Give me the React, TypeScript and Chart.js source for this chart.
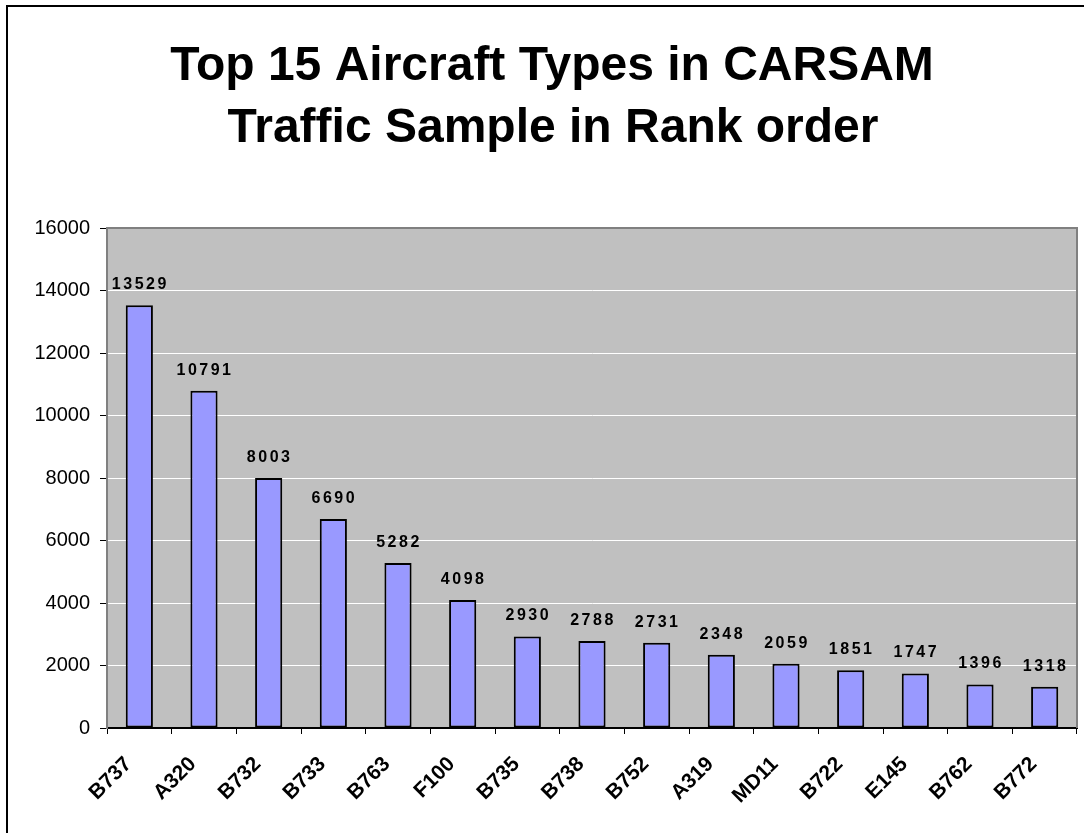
import React, { useEffect, useRef } from "react";
import { Chart, registerables } from "chart.js";

Chart.register(...registerables);

const titleLines = ["Top 15 Aircraft Types in CARSAM", "Traffic Sample in Rank order"];
const categories = ["B737", "A320", "B732", "B733", "B763", "F100", "B735", "B738", "B752", "A319", "MD11", "B722", "E145", "B762", "B772"];
const counts = [13529, 10791, 8003, 6690, 5282, 4098, 2930, 2788, 2731, 2348, 2059, 1851, 1747, 1396, 1318];
const yMin = 0;
const yMax = 16000;
const yStep = 2000;

const FONT = "Arial, 'Liberation Sans', sans-serif";

const decorPlugin = {
  id: "decor",
  beforeDraw(chart: any) {
    const { ctx, chartArea } = chart;
    ctx.save();
    ctx.fillStyle = "#ffffff";
    ctx.fillRect(0, 0, chart.width, chart.height);
    ctx.fillStyle = "#C0C0C0";
    ctx.fillRect(chartArea.left, chartArea.top, chartArea.right - chartArea.left, chartArea.bottom - chartArea.top);
    ctx.restore();
  },
  afterDraw(chart: any) {
    const { ctx, chartArea } = chart;
    ctx.save();
    // outer border
    ctx.strokeStyle = "#000000";
    ctx.lineWidth = 2;
    ctx.beginPath();
    ctx.moveTo(7, chart.height + 5);
    ctx.lineTo(7, 6);
    ctx.lineTo(chart.width + 5, 6);
    ctx.stroke();
    // plot border top & right
    ctx.strokeStyle = "#808080";
    ctx.lineWidth = 2;
    ctx.beginPath();
    ctx.moveTo(chartArea.left, chartArea.top);
    ctx.lineTo(chartArea.right, chartArea.top);
    ctx.lineTo(chartArea.right, chartArea.bottom);
    ctx.stroke();
    // title
    ctx.fillStyle = "#000000";
    ctx.font = `bold 48px ${FONT}`;
    ctx.textAlign = "center";
    ctx.textBaseline = "alphabetic";
    ctx.fillText(titleLines[0], 552, 80);
    ctx.fillText(titleLines[1], 553, 142);
    // data labels
    const meta = chart.getDatasetMeta(0);
    ctx.font = `bold 16px ${FONT}`;
    (ctx as any).letterSpacing = "2.5px";
    ctx.textAlign = "center";
    ctx.textBaseline = "alphabetic";
    meta.data.forEach((bar: any, i: number) => {
      ctx.fillText(String(counts[i]), bar.x + 1, bar.y - 16);
    });
    ctx.restore();
  },
};

export default function App() {
  const ref = useRef<HTMLCanvasElement | null>(null);
  useEffect(() => {
    if (!ref.current) return;
    const chart = new Chart(ref.current, {
      type: "bar",
      data: {
        labels: categories,
        datasets: [
          {
            data: counts,
            backgroundColor: "#9999FF",
            borderColor: "#000000",
            borderWidth: 2,
            borderSkipped: false,
            categoryPercentage: 1,
            barPercentage: 0.42,
          },
        ],
      },
      options: {
        animation: false,
        responsive: false,
        devicePixelRatio: 1,
        layout: { padding: { left: 7, top: 228, right: 7, bottom: 0 } },
        plugins: {
          legend: { display: false },
          title: { display: false },
          tooltip: { enabled: false },
        },
        scales: {
          x: {
            offset: true,
            grid: {
              offset: true,
              drawOnChartArea: false,
              drawTicks: true,
              tickLength: 6,
              tickColor: "#000000",
              tickWidth: 1,
            },
            border: { color: "#000000", width: 2 },
            ticks: {
              color: "#000000",
              font: { family: FONT, size: 21, weight: "bold" },
              minRotation: 45,
              maxRotation: 45,
              padding: 18,
              labelOffset: -11,
              autoSkip: false,
            },
            afterFit(scale: any) {
              scale.height = 105;
            },
          },
          y: {
            min: yMin,
            max: yMax,
            grid: {
              color: "#ffffff",
              lineWidth: 1,
              drawTicks: true,
              tickLength: 7,
              tickColor: "#000000",
              tickWidth: 1,
            },
            border: { color: "#808080", width: 2 },
            ticks: {
              stepSize: yStep,
              color: "#000000",
              font: { family: FONT, size: 20 },
              padding: 10,
              callback: (v: any) => String(v),
            },
            afterFit(scale: any) {
              scale.width = 100;
            },
          },
        },
      },
      plugins: [decorPlugin],
    });
    return () => chart.destroy();
  }, []);
  return (
    <div style={{ position: "fixed", left: 0, top: 0, width: 1084, height: 833, overflow: "hidden" }}>
      <canvas ref={ref} width={1084} height={833} style={{ width: 1084, height: 833, display: "block" }} />
    </div>
  );
}
